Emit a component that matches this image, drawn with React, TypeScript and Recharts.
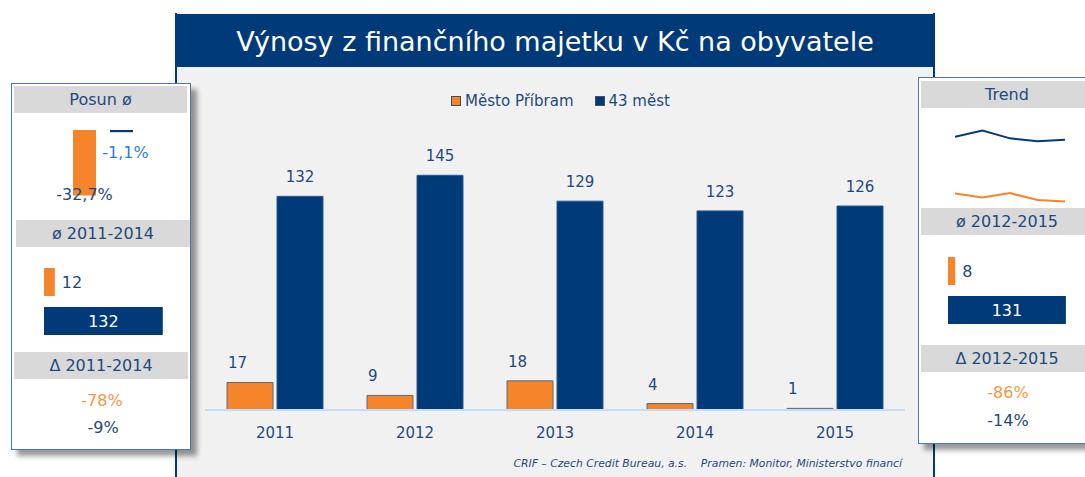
import React from 'react';
import {
  Bar,
  BarChart,
  Cell,
  LabelList,
  Legend,
  Line,
  LineChart,
  XAxis,
  YAxis,
} from 'recharts';

const years = ['2011', '2012', '2013', '2014', '2015'];
const pribram = [17, 9, 18, 4, 1];
const mest43 = [132, 145, 129, 123, 126];
const seriesNames = ['Město Příbram', '43 měst'];

const posun = [-32.7, -1.1];
const avg2011_2014 = [12, 132];
const avg2012_2015 = [8, 131];
const delta2011_2014 = [-78, -9];
const delta2012_2015 = [-86, -14];

const ORANGE = '#f5842a';
const NAVY = '#003a78';
const TEXT = '#1f497d';
const FONT = '"DejaVu Sans", Verdana, sans-serif';

const mainData = years.map((year, i) => ({ year, pribram: pribram[i], mest: mest43[i] }));
const posunData = posun.map((v, i) => ({ name: seriesNames[i], value: v }));
const avgData1 = avg2011_2014.map((v, i) => ({ name: seriesNames[i], value: v }));
const avgData2 = avg2012_2015.map((v, i) => ({ name: seriesNames[i], value: v }));

const pct = (v: number) => v.toFixed(1).replace('.', ',') + '%';

function Header({ left, top, width, text }: { left: number; top: number; width: number; text: string }) {
  return (
    <div
      style={{
        position: 'absolute',
        left,
        top,
        width,
        height: 27,
        lineHeight: '27px',
        background: '#d9d9d9',
        color: TEXT,
        fontSize: 16,
        textAlign: 'center',
      }}
    >
      {text}
    </div>
  );
}

function Card({ left, top, width, height }: { left: number; top: number; width: number; height: number }) {
  return (
    <div
      style={{
        position: 'absolute',
        left,
        top,
        width,
        height,
        background: '#fff',
        border: '1px solid #4a77b4',
        boxShadow: '6px 6px 5px rgba(0,0,0,0.4)',
      }}
    />
  );
}

function Note({ x, y, color, text }: { x: number; y: number; color: string; text: string }) {
  return (
    <div
      style={{
        position: 'absolute',
        left: x - 60,
        top: y - 10,
        width: 120,
        height: 20,
        lineHeight: '20px',
        textAlign: 'center',
        fontSize: 16,
        color,
      }}
    >
      {text}
    </div>
  );
}

const legendContent = (props: any) => {
  const items = [...(props.payload || [])].sort(
    (a: any, b: any) => seriesNames.indexOf(a.value) - seriesNames.indexOf(b.value)
  );
  return (
    <div style={{ display: 'flex', justifyContent: 'center', paddingLeft: 12, fontSize: 15, color: TEXT, height: 20, alignItems: 'center' }}>
      {items.map((entry: any, i: number) => (
        <div key={i} style={{ display: 'flex', alignItems: 'center', marginRight: i === 0 ? 21 : 0 }}>
          <span
            style={{
              display: 'inline-block',
              width: 8,
              height: 8,
              background: entry.color,
              border: '1px solid #3c4f66',
              marginRight: 4,
            }}
          />
          <span>{entry.value}</span>
        </div>
      ))}
    </div>
  );
};

const orangeTopLabel = (props: any) => {
  const { x, y, value } = props;
  return (
    <text x={x + 1} y={y - 14} fill={TEXT} fontSize={15} textAnchor="start" fontFamily={FONT}>
      {value}
    </text>
  );
};

const posunLabel = (props: any) => {
  const { x, y, width, height, value, index } = props;
  const bottom = Math.max(y, y + height);
  const cx = x + width / 2;
  if (index === 0) {
    return (
      <text x={cx} y={bottom + 5} fill={TEXT} fontSize={16} textAnchor="middle" fontFamily={FONT}>
        {pct(value)}
      </text>
    );
  }
  return (
    <text x={cx + 4} y={bottom + 26} fill="#2b7fd8" fontSize={16} textAnchor="middle" fontFamily={FONT}>
      {pct(value)}
    </text>
  );
};

const avgLabel = (props: any) => {
  const { x, y, width, height, value, index } = props;
  const cy = y + height / 2;
  if (index === 0) {
    return (
      <text x={x + width + 7} y={cy} dy="0.36em" fill={TEXT} fontSize={16} textAnchor="start" fontFamily={FONT}>
        {value}
      </text>
    );
  }
  return (
    <text x={x + width / 2} y={cy} dy="0.36em" fill="#fff" fontSize={16} textAnchor="middle" fontFamily={FONT}>
      {value}
    </text>
  );
};

function AvgBars({ data, left, top, max }: { data: { name: string; value: number }[]; left: number; top: number; max: number }) {
  const plotWidth = max * 0.9;
  return (
    <div style={{ position: 'absolute', left, top }}>
      <BarChart
        width={plotWidth + 40}
        height={78}
        data={data}
        layout="vertical"
        margin={{ top: 0, right: 40, bottom: 0, left: 0 }}
      >
        <XAxis type="number" hide domain={[0, max]} />
        <YAxis type="category" dataKey="name" hide />
        <Bar dataKey="value" barSize={28} isAnimationActive={false}>
          {data.map((d, i) => (
            <Cell key={d.name} fill={i === 0 ? ORANGE : NAVY} />
          ))}
          <LabelList dataKey="value" content={avgLabel} />
        </Bar>
      </BarChart>
    </div>
  );
}

export default function App() {
  return (
    <div
      style={{
        position: 'absolute',
        left: 0,
        top: 0,
        width: 1085,
        height: 477,
        overflow: 'hidden',
        background: '#fff',
        fontFamily: FONT,
      }}
    >
      {/* main panel */}
      <div
        style={{
          position: 'absolute',
          left: 175,
          top: 13,
          width: 756,
          height: 480,
          background: '#f1f1f1',
          borderLeft: `2px solid ${NAVY}`,
          borderRight: `2px solid ${NAVY}`,
        }}
      />
      <div
        style={{
          position: 'absolute',
          left: 175,
          top: 14,
          width: 760,
          height: 53,
          background: NAVY,
          color: '#fff',
          fontSize: 27,
          lineHeight: '56px',
          textAlign: 'center',
        }}
      >
        Výnosy z finančního majetku v Kč na obyvatele
      </div>

      <div style={{ position: 'absolute', left: 176, top: 67 }}>
        <BarChart
          width={757}
          height={410}
          data={mainData}
          margin={{ top: 84, right: 28, bottom: 37, left: 29 }}
          barGap={4}
          barSize={46}
        >
          <XAxis
            dataKey="year"
            height={30}
            tickLine={false}
            tickMargin={11}
            axisLine={{ stroke: '#c6dcf4', strokeWidth: 2 }}
            tick={{ fill: TEXT, fontSize: 15, fontFamily: FONT }}
          />
          <YAxis hide domain={[0, 160]} />
          <Legend
            verticalAlign="middle"
            align="center"
            layout="horizontal"
            wrapperStyle={{ top: 24, left: 0, width: 757, height: 20 }}
            content={legendContent}
          />
          <Bar dataKey="pribram" name={seriesNames[0]} fill={ORANGE} stroke="#5a6b80" strokeWidth={1} isAnimationActive={false}>
            <LabelList dataKey="pribram" content={orangeTopLabel} />
          </Bar>
          <Bar dataKey="mest" name={seriesNames[1]} fill={NAVY} stroke="#2a5a90" strokeWidth={1} isAnimationActive={false}>
            <LabelList dataKey="mest" position="top" offset={14} fill={TEXT} fontSize={15} fontFamily={FONT} />
          </Bar>
        </BarChart>
      </div>

      <div
        style={{
          position: 'absolute',
          left: 440,
          top: 457,
          width: 462,
          textAlign: 'right',
          fontSize: 10.8,
          fontStyle: 'italic',
          color: TEXT,
          whiteSpace: 'pre',
        }}
      >
        {'CRIF – Czech Credit Bureau, a.s.    Pramen: Monitor, Ministerstvo financí'}
      </div>

      {/* left card */}
      <Card left={11} top={83} width={178} height={365} />
      <Header left={14} top={86} width={173} text="Posun ø" />
      <div style={{ position: 'absolute', left: 40, top: 130 }}>
        <BarChart width={126} height={80} data={posunData} margin={{ top: 0, right: 26, bottom: 10, left: 26 }}>
          <XAxis dataKey="name" hide />
          <YAxis hide domain={[-35, 0]} />
          <Bar dataKey="value" barSize={23} isAnimationActive={false}>
            {posunData.map((d, i) => (
              <Cell key={d.name} fill={i === 0 ? ORANGE : NAVY} />
            ))}
            <LabelList dataKey="value" content={posunLabel} />
          </Bar>
        </BarChart>
      </div>
      <Header left={16} top={220} width={174} text="ø 2011-2014" />
      <AvgBars data={avgData1} left={44} top={262} max={avg2011_2014[1]} />
      <Header left={14} top={352} width={174} text="Δ 2011-2014" />
      <Note x={102} y={401} color="#f79646" text={`${delta2011_2014[0]}%`} />
      <Note x={103} y={428} color={TEXT} text={`${delta2011_2014[1]}%`} />

      {/* right card */}
      <Card left={918} top={77} width={178} height={365} />
      <Header left={921} top={81} width={172} text="Trend" />
      <div style={{ position: 'absolute', left: 955, top: 124 }}>
        <LineChart width={110} height={82} data={mainData} margin={{ top: 4, right: 0, bottom: 4, left: 0 }}>
          <XAxis dataKey="year" hide />
          <YAxis hide domain={[0, 150]} />
          <Line dataKey="mest" stroke={NAVY} strokeWidth={2} dot={false} isAnimationActive={false} />
          <Line dataKey="pribram" stroke={ORANGE} strokeWidth={2} dot={false} isAnimationActive={false} />
        </LineChart>
      </div>
      <Header left={921} top={208} width={172} text="ø 2012-2015" />
      <AvgBars data={avgData2} left={948} top={251} max={avg2012_2015[1]} />
      <Header left={921} top={345} width={172} text="Δ 2012-2015" />
      <Note x={1008} y={393} color="#f79646" text={`${delta2012_2015[0]}%`} />
      <Note x={1008} y={421} color={TEXT} text={`${delta2012_2015[1]}%`} />
    </div>
  );
}
